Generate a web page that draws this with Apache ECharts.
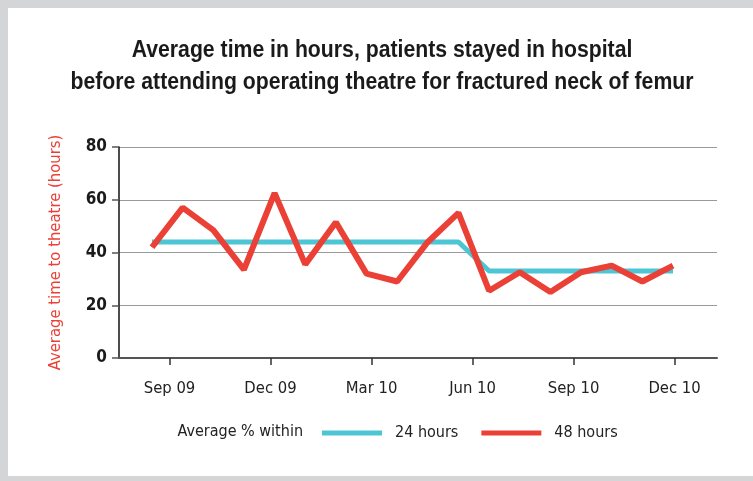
<!DOCTYPE html>
<html lang="en">
<head>
    <meta charset="UTF-8">
    <title>Average time to theatre</title>
    <style>
        html, body { margin: 0; padding: 0; background: #fff; }
        #chart1 { width: 753px; height: 481px; }
    </style>
</head>
<body>
<div id="chart1"></div>

<script type="text/javascript" src="https://cdn.jsdelivr.net/npm/echarts@6/dist/echarts.min.js"></script>
<script type="text/javascript">
    // monthly points, Aug 09 - Dec 10
    var months = ['Aug 09', 'Sep 09', 'Oct 09', 'Nov 09', 'Dec 09', 'Jan 10', 'Feb 10', 'Mar 10', 'Apr 10',
        'May 10', 'Jun 10', 'Jul 10', 'Aug 10', 'Sep 10', 'Oct 10', 'Nov 10', 'Dec 10', 'Jan 11'];
    var within24 = [44, 44, 44, 44, 44, 44, 44, 44, 44, 44, 44, 33, 33, 33, 33, 33, 33, 33];
    var within48 = [42, 57, 48.5, 33.5, 62.5, 35.5, 51.5, 32, 29, 44, 55, 25.5, 32.5, 25, 32.5, 35, 29, 35];
    // labels drawn under the axis
    var quarterLabels = ['Sep 09', 'Dec 09', 'Mar 10', 'Jun 10', 'Sep 10', 'Dec 10'];
    var quarterTicks = [0, 1, 2, 3, 4, 5];

    var FONT = "'DejaVu Sans Condensed', 'Liberation Sans Narrow', sans-serif";
    var TITLE_FONT = "bold 23px 'Liberation Sans', Arial, sans-serif";
    var RED = '#eb4036';
    var BLUE = '#4cc5d4';

    var titleLines = ['Average time in hours, patients stayed in hospital',
        'before attending operating theatre for fractured neck of femur'];

    // squeeze the title so it looks like the condensed face of the original
    var ctx = document.createElement('canvas').getContext('2d');
    ctx.font = TITLE_FONT;
    var titleScale = 623 / ctx.measureText(titleLines[1]).width;

    var myChart1 = echarts.init(document.getElementById('chart1'));
    myChart1.setOption({
        animation: false,
        textStyle: { fontFamily: FONT },
        graphic: [
            { type: 'rect', shape: { x: 0, y: 0, width: 8, height: 481 }, style: { fill: '#d4d5d7' } },
            { type: 'rect', shape: { x: 0, y: 0, width: 753, height: 8 }, style: { fill: '#d4d5d7' } },
            { type: 'rect', shape: { x: 0, y: 476, width: 753, height: 5 }, style: { fill: '#d4d5d7' } },
            {
                type: 'text', x: 382, y: 51, scaleX: titleScale,
                style: {
                    text: titleLines[0], font: TITLE_FONT, fill: '#1a1a1a',
                    align: 'center', verticalAlign: 'middle'
                }
            },
            {
                type: 'text', x: 382, y: 83, scaleX: titleScale,
                style: {
                    text: titleLines[1], font: TITLE_FONT, fill: '#1a1a1a',
                    align: 'center', verticalAlign: 'middle'
                }
            },
            {
                type: 'text', x: 303, y: 432,
                style: {
                    text: 'Average % within', font: '16px ' + FONT, fill: '#222',
                    align: 'right', verticalAlign: 'middle'
                }
            }
        ],
        legend: {
            data: ['24 hours', '48 hours'],
            left: 317, top: 420,
            icon: 'rect',
            itemWidth: 60, itemHeight: 5,
            itemGap: 23,
            textStyle: { fontFamily: FONT, fontSize: 16, color: '#222', padding: [0, 0, 0, 8] }
        },
        grid: [
            { left: 119, right: 36, top: 147, bottom: 123 },
            { left: 152, right: 80, top: 147, bottom: 123 }
        ],
        xAxis: [
            {
                type: 'value', gridIndex: 0, min: -0.5, max: 5.42,
                splitLine: { show: false },
                axisLine: { show: true, onZero: false, lineStyle: { color: '#555', width: 2 } },
                axisTick: { show: true, customValues: quarterTicks, length: 7, lineStyle: { color: '#333', width: 1.5 } },
                axisLabel: {
                    customValues: quarterTicks, margin: 22,
                    fontSize: 16.5, color: '#222', fontFamily: FONT,
                    formatter: function (v) { return quarterLabels[Math.round(v)]; }
                }
            },
            {
                type: 'category', gridIndex: 1, data: months, boundaryGap: false, show: false
            }
        ],
        yAxis: [
            {
                type: 'value', gridIndex: 0, min: 0, max: 80, interval: 20,
                name: 'Average time to theatre (hours)',
                nameLocation: 'middle', nameRotate: 90, nameGap: 55,
                nameTextStyle: { color: RED, fontSize: 16.5, fontFamily: FONT },
                axisLine: { show: true, onZero: false, lineStyle: { color: '#111', width: 1.5 } },
                axisTick: { show: true, inside: false, length: 7, lineStyle: { color: '#555', width: 1.5 } },
                axisLabel: { fontSize: 17, fontWeight: 'bold', color: '#1a1a1a', margin: 12, fontFamily: FONT },
                splitLine: { lineStyle: { color: '#9a9a9a', width: 1.2 } }
            },
            { type: 'value', gridIndex: 1, min: 0, max: 80, show: false, splitLine: { show: false } }
        ],
        series: [
            {
                name: '24 hours', type: 'line', xAxisIndex: 1, yAxisIndex: 1,
                data: within24, showSymbol: false, symbol: 'none',
                color: BLUE, lineStyle: { color: BLUE, width: 5 }
            },
            {
                name: '48 hours', type: 'line', xAxisIndex: 1, yAxisIndex: 1,
                data: within48, showSymbol: false, symbol: 'none',
                color: RED, lineStyle: { color: RED, width: 6 }
            }
        ]
    });
</script>
</body>
</html>
